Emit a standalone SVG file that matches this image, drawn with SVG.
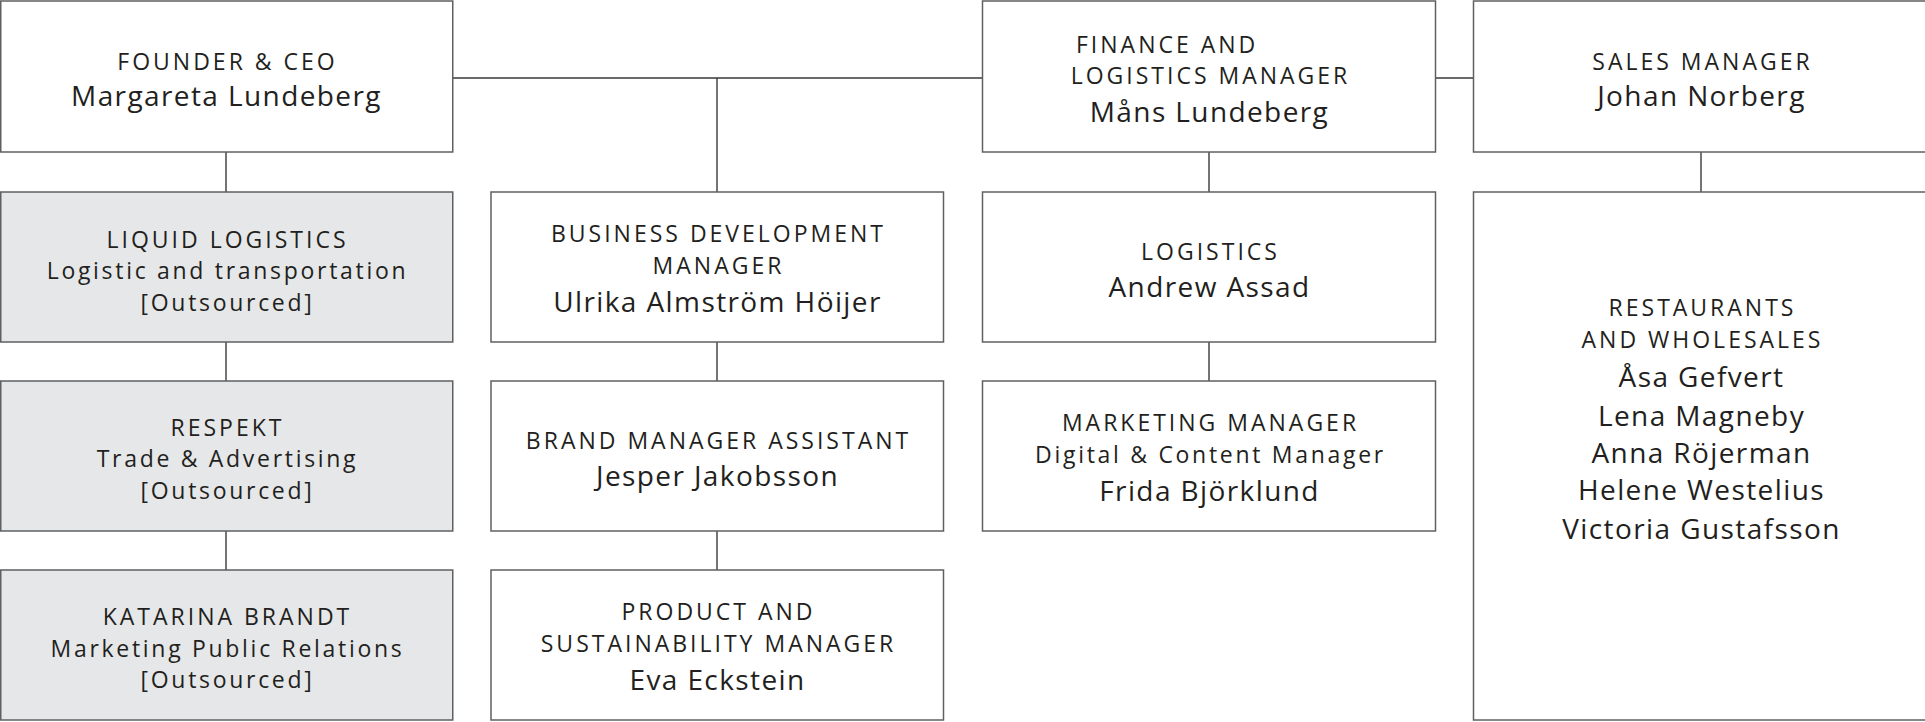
<svg xmlns="http://www.w3.org/2000/svg" width="1925" height="722" viewBox="0 0 1925 722">
<style>
.box{fill:#ffffff;stroke:#5f6062;stroke-width:1.5}
.out{fill:#e6e7e8;stroke:#5f6062;stroke-width:1.5}
.c{fill:none;stroke:#3a3a3a;stroke-width:1.4}
text{font-family:"Open Sans","Noto Sans",sans-serif;fill:#231f20;text-anchor:middle}
.t{font-size:23px;letter-spacing:3px;font-weight:400}
.s{font-size:23px;letter-spacing:2.7px;font-weight:400}
.n{font-size:28px;letter-spacing:1.4px;font-weight:500}
</style>
<rect width="1925" height="722" fill="#ffffff"/>
<g id="connectors">
<path class="c" d="M452.75 78H982.5M1435.5 78H1473.5M717 78V192"/>
<path class="c" d="M226 152V192M226 342V381M226 531V570"/>
<path class="c" d="M717 342V381M717 531V570"/>
<path class="c" d="M1209 152V192M1209 342V381"/>
<path class="c" d="M1701 152V192"/>
</g>
<g id="founder">
<rect class="box" x="0.75" y="1" width="452" height="151"/>
<text class="t" x="227.5" y="70">FOUNDER &amp; CEO</text>
<text class="n" x="226.5" y="106">Margareta Lundeberg</text>
</g>
<g id="finance">
<rect class="box" x="982.5" y="1" width="453" height="151"/>
<text class="t" x="1076" y="52.7" style="text-anchor:start">FINANCE AND</text>
<text class="t" x="1210.5" y="84">LOGISTICS MANAGER</text>
<text class="n" x="1209.5" y="121.7">Måns Lundeberg</text>
</g>
<g id="sales">
<rect class="box" x="1473.5" y="1" width="460" height="151"/>
<text class="t" x="1702.5" y="70">SALES MANAGER</text>
<text class="n" x="1701.5" y="106">Johan Norberg</text>
</g>
<g id="liquid-logistics">
<rect class="out" x="0.75" y="192" width="452" height="150"/>
<text class="t" x="227.5" y="247.7">LIQUID LOGISTICS</text>
<text class="s" x="227.5" y="279.3">Logistic and transportation</text>
<text class="s" x="227.5" y="310.5">[Outsourced]</text>
</g>
<g id="respekt">
<rect class="out" x="0.75" y="381" width="452" height="150"/>
<text class="t" x="227.5" y="436">RESPEKT</text>
<text class="s" x="227.5" y="467.3">Trade &amp; Advertising</text>
<text class="s" x="227.5" y="499">[Outsourced]</text>
</g>
<g id="katarina-brandt">
<rect class="out" x="0.75" y="570" width="452" height="150"/>
<text class="t" x="227.5" y="625">KATARINA BRANDT</text>
<text class="s" x="227.5" y="656.7">Marketing Public Relations</text>
<text class="s" x="227.5" y="688">[Outsourced]</text>
</g>
<g id="business-development">
<rect class="box" x="491" y="192" width="452.5" height="150"/>
<text class="t" x="718.5" y="241.7">BUSINESS DEVELOPMENT</text>
<text class="t" x="718.5" y="274">MANAGER</text>
<text class="n" x="717.5" y="311.7">Ulrika Almström Höijer</text>
</g>
<g id="brand-manager-assistant">
<rect class="box" x="491" y="381" width="452.5" height="150"/>
<text class="t" x="718.5" y="448.7">BRAND MANAGER ASSISTANT</text>
<text class="n" x="717.5" y="485.7">Jesper Jakobsson</text>
</g>
<g id="product-sustainability">
<rect class="box" x="491" y="570" width="452.5" height="150"/>
<text class="t" x="718.5" y="620">PRODUCT AND</text>
<text class="t" x="718.5" y="652">SUSTAINABILITY MANAGER</text>
<text class="n" x="717.5" y="690">Eva Eckstein</text>
</g>
<g id="logistics">
<rect class="box" x="982.5" y="192" width="453" height="150"/>
<text class="t" x="1210.5" y="260">LOGISTICS</text>
<text class="n" x="1209.5" y="296.7">Andrew Assad</text>
</g>
<g id="marketing-manager">
<rect class="box" x="982.5" y="381" width="453" height="150"/>
<text class="t" x="1210.5" y="430.7">MARKETING MANAGER</text>
<text class="s" x="1210.5" y="463.3">Digital &amp; Content Manager</text>
<text class="n" x="1209.5" y="500.7">Frida Björklund</text>
</g>
<g id="restaurants-wholesales">
<rect class="box" x="1473.5" y="192" width="460" height="528"/>
<text class="t" x="1702.5" y="315.5">RESTAURANTS</text>
<text class="t" x="1702.5" y="348.3">AND WHOLESALES</text>
<text class="n" x="1701.5" y="387.4">Åsa Gefvert</text>
<text class="n" x="1701.5" y="426">Lena Magneby</text>
<text class="n" x="1701.5" y="462.7">Anna Röjerman</text>
<text class="n" x="1701.5" y="499.7">Helene Westelius</text>
<text class="n" x="1701.5" y="538.5">Victoria Gustafsson</text>
</g>
</svg>
